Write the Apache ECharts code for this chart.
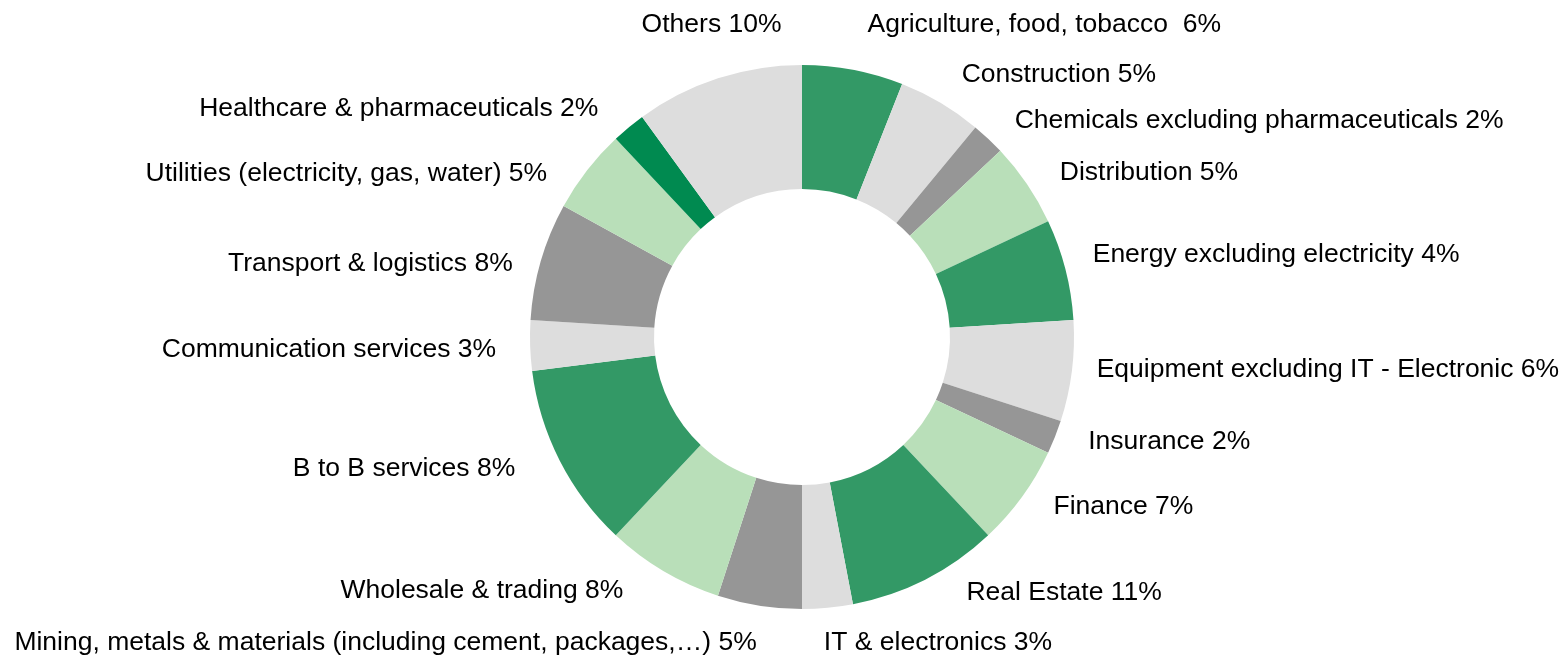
<!DOCTYPE html>
<html>
<head>
<meta charset="utf-8">
<script src="https://cdn.jsdelivr.net/npm/echarts@6/dist/echarts.min.js"></script>
<style>
  html, body { margin: 0; padding: 0; background: #fff; }
  #chart { width: 1564px; height: 658px; }
</style>
</head>
<body>
<div id="chart"></div>
<script>
// Sector names (clockwise from 12 o'clock)
const categories = [
  'Agriculture, food, tobacco ',
  'Construction',
  'Chemicals excluding pharmaceuticals',
  'Distribution',
  'Energy excluding electricity',
  'Equipment excluding IT - Electronic',
  'Insurance',
  'Finance',
  'Real Estate',
  'IT & electronics',
  'Mining, metals & materials (including cement, packages,\u2026)',
  'Wholesale & trading',
  'B to B services',
  'Communication services',
  'Transport & logistics',
  'Utilities (electricity, gas, water)',
  'Healthcare & pharmaceuticals',
  'Others'
];
// Slice sizes as drawn (%)
const sliceValues = [6, 5, 2, 5, 6, 6, 2, 6, 9, 3, 5, 7, 11, 3, 7, 5, 2, 10];
// Percentages printed in the labels
const labelPercents = [6, 5, 2, 5, 4, 6, 2, 7, 11, 3, 5, 8, 8, 3, 8, 5, 2, 10];
// Colour per slice
const sliceColors = [
  '#339966', '#dddddd', '#969696', '#b9dfb9', '#339966', '#dddddd',
  '#969696', '#b9dfb9', '#339966', '#dddddd', '#969696', '#b9dfb9',
  '#339966', '#dddddd', '#969696', '#b9dfb9', '#008a50', '#dddddd'
];

// Small layout nudges for the outside labels (px), to mimic the original placement
const labelNudges = [
  [5, -22], [4, -8], [5, -1], [8, 2], [-1, -9], [-4, -4], [6, -4], [7, -4],
  [25, -8], [-11, 11], [6, 13], [-23, -1], [-18, -3], [-5, 3], [0, 9],
  [-16, 18], [-10, 0], [76, -31]
];

const data = categories.map((name, i) => ({
  name: name,
  value: sliceValues[i],
  itemStyle: { color: sliceColors[i] }
}));

const chart = echarts.init(document.getElementById('chart'), null, { renderer: 'canvas' });
chart.setOption({
  animation: false,
  backgroundColor: '#ffffff',
  series: [{
    type: 'pie',
    center: [802, 337],
    radius: [148, 272],
    startAngle: 90,
    clockwise: true,
    avoidLabelOverlap: true,
    data: data,
    itemStyle: { borderWidth: 0 },
    label: {
      show: true,
      position: 'outside',
      overflow: 'none',
      bleedMargin: 0,
      distanceToLabelLine: 5,
      color: '#000000',
      fontFamily: 'Liberation Sans, Arial, sans-serif',
      fontSize: 26.5,
      formatter: (p) => p.name + ' ' + labelPercents[p.dataIndex] + '%'
    },
    labelLine: { show: false, length: 24, length2: 0 },
    labelLayout: (p) => ({ dx: labelNudges[p.dataIndex][0], dy: labelNudges[p.dataIndex][1] }),
    emphasis: { disabled: true }
  }]
});
</script>
</body>
</html>
